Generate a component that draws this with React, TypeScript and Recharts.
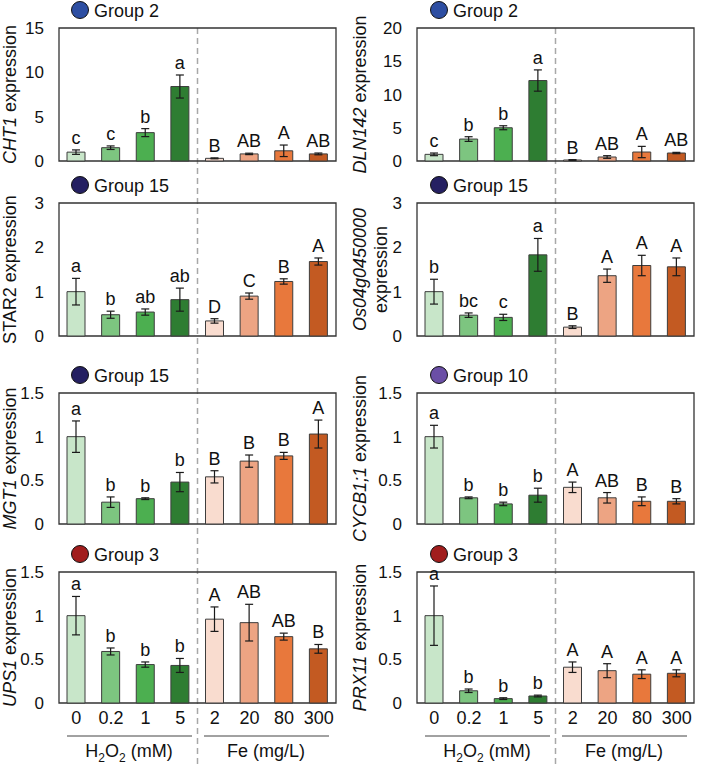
import React from 'react';
import { BarChart, Bar, XAxis, YAxis, ErrorBar, LabelList, Cell, ReferenceArea } from 'recharts';

const FONT = '"Liberation Sans", Arial, sans-serif';

const doses = ['0', '0.2', '1', '5', '2', '20', '80', '300'];
const barColors = ['#c8e6c9', '#7dc580', '#4caf50', '#2e7d32', '#f9dccf', '#eda483', '#e8783c', '#c35a22'];

const cht1Values = [1.0, 1.5, 3.2, 8.4, 0.3, 0.8, 1.15, 0.8];
const cht1Errors = [0.25, 0.2, 0.45, 1.3, 0.05, 0.08, 0.65, 0.1];
const cht1Letters = ['c', 'c', 'b', 'a', 'B', 'AB', 'A', 'AB'];

const dln142Values = [1.0, 3.3, 5.0, 12.1, 0.15, 0.6, 1.35, 1.2];
const dln142Errors = [0.2, 0.35, 0.3, 1.6, 0.05, 0.2, 0.85, 0.1];
const dln142Letters = ['c', 'b', 'b', 'a', 'B', 'AB', 'A', 'AB'];

const star2Values = [1.0, 0.48, 0.54, 0.82, 0.34, 0.9, 1.23, 1.68];
const star2Errors = [0.3, 0.08, 0.07, 0.26, 0.05, 0.07, 0.06, 0.08];
const star2Letters = ['a', 'b', 'ab', 'ab', 'D', 'C', 'B', 'A'];

const os04Values = [1.0, 0.47, 0.42, 1.83, 0.2, 1.36, 1.59, 1.56];
const os04Errors = [0.28, 0.05, 0.07, 0.37, 0.03, 0.15, 0.23, 0.2];
const os04Letters = ['b', 'bc', 'c', 'a', 'B', 'A', 'A', 'A'];

const mgt1Values = [1.0, 0.25, 0.29, 0.48, 0.54, 0.72, 0.78, 1.03];
const mgt1Errors = [0.18, 0.06, 0.01, 0.11, 0.07, 0.07, 0.04, 0.16];
const mgt1Letters = ['a', 'b', 'b', 'b', 'B', 'B', 'B', 'A'];

const cycb11Values = [1.0, 0.3, 0.23, 0.33, 0.42, 0.3, 0.26, 0.26];
const cycb11Errors = [0.13, 0.01, 0.02, 0.08, 0.06, 0.06, 0.05, 0.03];
const cycb11Letters = ['a', 'b', 'b', 'b', 'A', 'AB', 'B', 'B'];

const ups1Values = [1.0, 0.59, 0.44, 0.43, 0.96, 0.92, 0.76, 0.62];
const ups1Errors = [0.22, 0.04, 0.03, 0.08, 0.14, 0.21, 0.04, 0.05];
const ups1Letters = ['a', 'b', 'b', 'b', 'A', 'AB', 'AB', 'B'];

const prx11Values = [1.0, 0.14, 0.05, 0.08, 0.41, 0.37, 0.33, 0.34];
const prx11Errors = [0.34, 0.02, 0.01, 0.01, 0.06, 0.08, 0.05, 0.04];
const prx11Letters = ['a', 'b', 'b', 'b', 'A', 'A', 'A', 'A'];

const ticks15 = [0, 5, 10, 15];
const ticks20 = [0, 5, 10, 15, 20];
const ticks3 = [0, 1, 2, 3];
const ticks1_5 = [0, 0.5, 1, 1.5];

const groupColors: Record<string, string> = {
  'Group 2': '#2d4ea2',
  'Group 15': '#252062',
  'Group 10': '#6b4fa6',
  'Group 3': '#a11d1d',
};

// layout
const rowBoxTop = [28, 203, 393, 572];
const rowBoxH = [133, 133, 131, 131];
const colChartLeft = [0, 345];
const colAxisW = [59, 72];
const colLabelOffset = [16, 21];
const plotW = 277;
const marginTop = 32;
const marginBottom = 22;
const marginRight = 6;
const xAxisH = 30;

type Seg = { t: string; italic?: boolean };

const panels = [
  { col: 0, row: 0, label: [[{ t: 'CHT1', italic: true }, { t: ' expression' }]], group: 'Group 2', yMax: 15, ticks: ticks15, values: cht1Values, errors: cht1Errors, letters: cht1Letters },
  { col: 1, row: 0, label: [[{ t: 'DLN142', italic: true }, { t: ' expression' }]], group: 'Group 2', yMax: 20, ticks: ticks20, values: dln142Values, errors: dln142Errors, letters: dln142Letters },
  { col: 0, row: 1, label: [[{ t: 'STAR2' }, { t: ' expression' }]], group: 'Group 15', yMax: 3, ticks: ticks3, values: star2Values, errors: star2Errors, letters: star2Letters },
  { col: 1, row: 1, label: [[{ t: 'Os04g0450000', italic: true }], [{ t: 'expression' }]], group: 'Group 15', yMax: 3, ticks: ticks3, values: os04Values, errors: os04Errors, letters: os04Letters },
  { col: 0, row: 2, label: [[{ t: 'MGT1', italic: true }, { t: ' expression' }]], group: 'Group 15', yMax: 1.5, ticks: ticks1_5, values: mgt1Values, errors: mgt1Errors, letters: mgt1Letters },
  { col: 1, row: 2, label: [[{ t: 'CYCB1;1', italic: true }, { t: ' expression' }]], group: 'Group 10', yMax: 1.5, ticks: ticks1_5, values: cycb11Values, errors: cycb11Errors, letters: cycb11Letters },
  { col: 0, row: 3, label: [[{ t: 'UPS1', italic: true }, { t: ' expression' }]], group: 'Group 3', yMax: 1.5, ticks: ticks1_5, values: ups1Values, errors: ups1Errors, letters: ups1Letters },
  { col: 1, row: 3, label: [[{ t: 'PRX11', italic: true }, { t: ' expression' }]], group: 'Group 3', yMax: 1.5, ticks: ticks1_5, values: prx11Values, errors: prx11Errors, letters: prx11Letters },
];

const makeYLabel = (lines: Seg[][], offset: number) => (props: any) => {
  const vb = props.viewBox || {};
  const y0 = vb.y ?? 0;
  const h = vb.height ?? 0;
  const x0 = vb.x ?? 0;
  const cy = y0 + h / 2;
  return (
    <g>
      {lines.map((segs, li) => {
        const bx = x0 + offset + li * 21;
        return (
          <text
            key={li}
            x={bx}
            y={cy}
            transform={`rotate(-90 ${bx} ${cy})`}
            textAnchor="middle"
            fontSize={18}
            fontFamily={FONT}
            fill="#111"
          >
            {segs.map((s, si) => (
              <tspan key={si} fontStyle={s.italic ? 'italic' : 'normal'}>{s.t}</tspan>
            ))}
          </text>
        );
      })}
    </g>
  );
};

const makeLetter = (values: number[], errors: number[]) => (props: any) => {
  const vb = props.viewBox || {};
  const x = typeof props.x === 'number' ? props.x : vb.x;
  const y = typeof props.y === 'number' ? props.y : vb.y;
  const w = typeof props.width === 'number' ? props.width : vb.width;
  const h = typeof props.height === 'number' ? props.height : vb.height;
  const i = props.index ?? 0;
  const px = Math.abs(h) / values[i];
  const top = y - errors[i] * px;
  return (
    <text x={x + w / 2} y={top - 6} textAnchor="middle" fontSize={18} fontFamily={FONT} fill="#111">
      {props.value}
    </text>
  );
};

function Panel({ p }: { p: (typeof panels)[number] }) {
  const data = doses.map((d, i) => ({ dose: d, value: p.values[i], err: p.errors[i], letter: p.letters[i] }));
  const axisW = colAxisW[p.col];
  const boxH = rowBoxH[p.row];
  const width = axisW + plotW + marginRight;
  const height = marginTop + boxH + xAxisH + marginBottom;
  const isBottom = p.row === 3;
  return (
    <div style={{ position: 'absolute', left: colChartLeft[p.col], top: rowBoxTop[p.row] - marginTop }}>
      <BarChart width={width} height={height} data={data} margin={{ top: marginTop, right: marginRight, left: 0, bottom: marginBottom }} barCategoryGap={0}>
        <XAxis
          dataKey="dose"
          axisLine={false}
          tickLine={false}
          tickSize={0}
          tickMargin={8}
          interval={0}
          height={xAxisH}
          tick={isBottom ? { fontSize: 18, fill: '#111', fontFamily: FONT } : false}
        />
        <YAxis
          type="number"
          domain={[0, p.yMax]}
          ticks={p.ticks}
          width={axisW}
          axisLine={false}
          tickLine={false}
          tickSize={0}
          tickMargin={15}
          tick={{ fontSize: 17, fill: '#111', fontFamily: FONT }}
          label={makeYLabel(p.label as Seg[][], colLabelOffset[p.col])}
        />
        <Bar dataKey="value" barSize={18} stroke="#3d3d3d" strokeWidth={1} isAnimationActive={false}>
          {data.map((_, i) => (
            <Cell key={i} fill={barColors[i]} />
          ))}
          <ErrorBar dataKey="err" width={4} stroke="#1a1a1a" strokeWidth={1.2} direction="y" isAnimationActive={false} />
          <LabelList dataKey="letter" content={makeLetter(p.values, p.errors)} />
        </Bar>
        <ReferenceArea y1={0} y2={p.yMax} fill="none" stroke="#333" strokeWidth={1.3} ifOverflow="visible" />
      </BarChart>
    </div>
  );
}

function Overlay() {
  const boxLefts = colChartLeft.map((l, c) => l + colAxisW[c]);
  const bracketY = 736;
  const labelY = 757;
  return (
    <svg width={709} height={765} style={{ position: 'absolute', left: 0, top: 0 }}>
      {boxLefts.map((bl, c) => (
        <line key={'d' + c} x1={bl + plotW / 2} y1={rowBoxTop[0]} x2={bl + plotW / 2} y2={765} stroke="#a8a8a8" strokeWidth={1.5} strokeDasharray="6 4" />
      ))}
      {panels.map((p, i) => {
        const bl = boxLefts[p.col];
        const cx = bl + (p.col === 0 ? 21 : 22);
        const cy = rowBoxTop[p.row] - 18;
        return (
          <g key={'g' + i}>
            <circle cx={cx} cy={cy} r={8.5} fill={groupColors[p.group]} stroke="#111" strokeWidth={1} />
            <text x={cx + 14} y={cy + 6.5} fontSize={18} fontFamily={FONT} fill="#111">{p.group}</text>
          </g>
        );
      })}
      {boxLefts.map((bl, c) => (
        <g key={'b' + c}>
          <line x1={bl + 8} y1={bracketY} x2={bl + 133} y2={bracketY} stroke="#444" strokeWidth={1} />
          <line x1={bl + 145} y1={bracketY} x2={bl + 270} y2={bracketY} stroke="#444" strokeWidth={1} />
          <text x={bl + 70} y={labelY} textAnchor="middle" fontSize={18} fontFamily={FONT} fill="#111">
            H<tspan fontSize={12} dy={5}>2</tspan>
            <tspan dy={-5}>O</tspan>
            <tspan fontSize={12} dy={5}>2</tspan>
            <tspan dy={-5}> (mM)</tspan>
          </text>
          <text x={bl + 207} y={labelY} textAnchor="middle" fontSize={18} fontFamily={FONT} fill="#111">Fe (mg/L)</text>
        </g>
      ))}
    </svg>
  );
}

export default function App() {
  return (
    <div style={{ position: 'absolute', left: 0, top: 0, width: 709, height: 765, background: '#fff', overflow: 'hidden' }}>
      <Overlay />
      {panels.map((p, i) => (
        <Panel key={i} p={p} />
      ))}
    </div>
  );
}
